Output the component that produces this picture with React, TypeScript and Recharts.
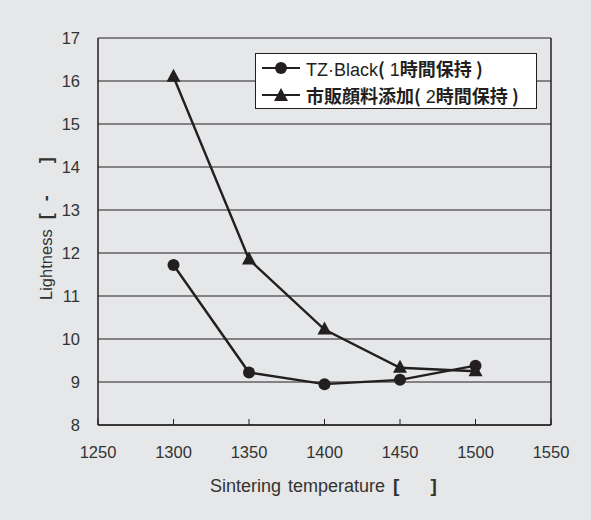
import React from "react";
import {
  LineChart,
  Line,
  XAxis,
  YAxis,
  CartesianGrid,
  ReferenceLine,
} from "recharts";

const temps = [1300, 1350, 1400, 1450, 1500];
const tzBlack = [11.72, 9.22, 8.95, 9.05, 9.38];
const commercial = [16.1, 11.85, 10.22, 9.33, 9.25];
const xTicks = [1250, 1300, 1350, 1400, 1450, 1500, 1550];
const yTicks = [8, 9, 10, 11, 12, 13, 14, 15, 16, 17];

const data = temps.map((t, i) => ({ t, a: tzBlack[i], b: commercial[i] }));

const ink = "#231f20";
const bg = "#e6e7e8";
const font = "'Liberation Sans', Arial, 'Noto Sans CJK JP', sans-serif";
const cjk = "'Noto Sans CJK JP', 'Liberation Sans', sans-serif";

const Triangle = (props: any) => {
  const { cx, cy } = props;
  if (cx == null || cy == null) return null;
  return (
    <polygon
      points={`${cx},${cy - 8} ${cx - 7},${cy + 5} ${cx + 7},${cy + 5}`}
      fill={ink}
    />
  );
};

// axis titles: spacing, brackets sit far apart
const XLabel = () => (
  <text x={210} y={492} fontSize={18} fill="#333" fontFamily={font}>
    Sintering
    <tspan dx={7}>temperature</tspan>
    <tspan dx={8} fontWeight="bold" fontSize={19}>[</tspan>
    <tspan dx={31} fontWeight="bold" fontSize={19}>]</tspan>
  </text>
);

const YLabel = () => (
  <text
    x={0}
    y={0}
    transform="translate(52,300) rotate(-90)"
    fontSize={16.5}
    fill="#333"
    fontFamily={font}
  >
    Lightness
    <tspan dx={10} fontWeight="bold" fontSize={18}>[</tspan>
    <tspan dx={12} fontWeight="bold" fontSize={18}>-</tspan>
    <tspan dx={32} fontWeight="bold" fontSize={18}>]</tspan>
  </text>
);

const LegendRow = ({ marker, children }: { marker: "circle" | "tri"; children: React.ReactNode }) => (
  <div style={{ display: "flex", alignItems: "center", height: 27 }}>
    <svg width={44} height={16} style={{ marginRight: 4 }}>
      <line x1={4} y1={8} x2={42} y2={8} stroke={ink} strokeWidth={2} />
      {marker === "circle" ? (
        <circle cx={23} cy={8} r={6} fill={ink} />
      ) : (
        <polygon points="23,1 16,14 30,14" fill={ink} />
      )}
    </svg>
    <span style={{ fontSize: 18, color: ink, whiteSpace: "nowrap" }}>{children}</span>
  </div>
);

export default function App() {
  return (
    <div
      style={{
        position: "absolute",
        left: 0,
        top: 0,
        width: 591,
        height: 520,
        background: bg,
        fontFamily: font,
      }}
    >
      <LineChart
        width={591}
        height={520}
        data={data}
        margin={{ top: 38, right: 40, bottom: 65, left: 38 }}
      >
        <CartesianGrid vertical={false} stroke={ink} strokeWidth={1} />
        <XAxis
          dataKey="t"
          type="number"
          domain={[1250, 1550]}
          ticks={xTicks}
          height={30}
          axisLine={{ stroke: ink, strokeWidth: 1.5 }}
          tickLine={{ stroke: ink }}
          tickSize={-6}
          tickMargin={27}
          tick={{ fontSize: 16.5, fill: "#333", fontFamily: font }}
          label={<XLabel />}
        />
        <YAxis
          type="number"
          domain={[8, 17]}
          ticks={yTicks}
          width={60}
          axisLine={{ stroke: ink, strokeWidth: 1.5 }}
          tickLine={false}
          tickMargin={12}
          tick={{ fontSize: 16.5, fill: "#333", fontFamily: font }}
          label={<YLabel />}
        />
        <ReferenceLine x={1550} stroke={ink} strokeWidth={1.5} />
        <Line
          dataKey="a"
          stroke={ink}
          strokeWidth={2.4}
          dot={{ r: 6, fill: ink, stroke: "none" }}
          activeDot={false}
          isAnimationActive={false}
        />
        <Line
          dataKey="b"
          stroke={ink}
          strokeWidth={2.4}
          dot={<Triangle />}
          activeDot={false}
          isAnimationActive={false}
        />
      </LineChart>
      <div
        style={{
          position: "absolute",
          left: 255,
          top: 53,
          width: 278,
          height: 54,
          background: "#fff",
          border: `1.5px solid ${ink}`,
          boxSizing: "content-box",
          paddingLeft: 2,
        }}
      >
        <LegendRow marker="circle">
          TZ·Black<b style={{ fontFamily: cjk }}>(</b> 1<b style={{ fontFamily: cjk }}>時間保持 )</b>
        </LegendRow>
        <LegendRow marker="tri">
          <b style={{ fontFamily: cjk }}>市販顔料添加(</b> 2<b style={{ fontFamily: cjk }}>時間保持 )</b>
        </LegendRow>
      </div>
    </div>
  );
}
